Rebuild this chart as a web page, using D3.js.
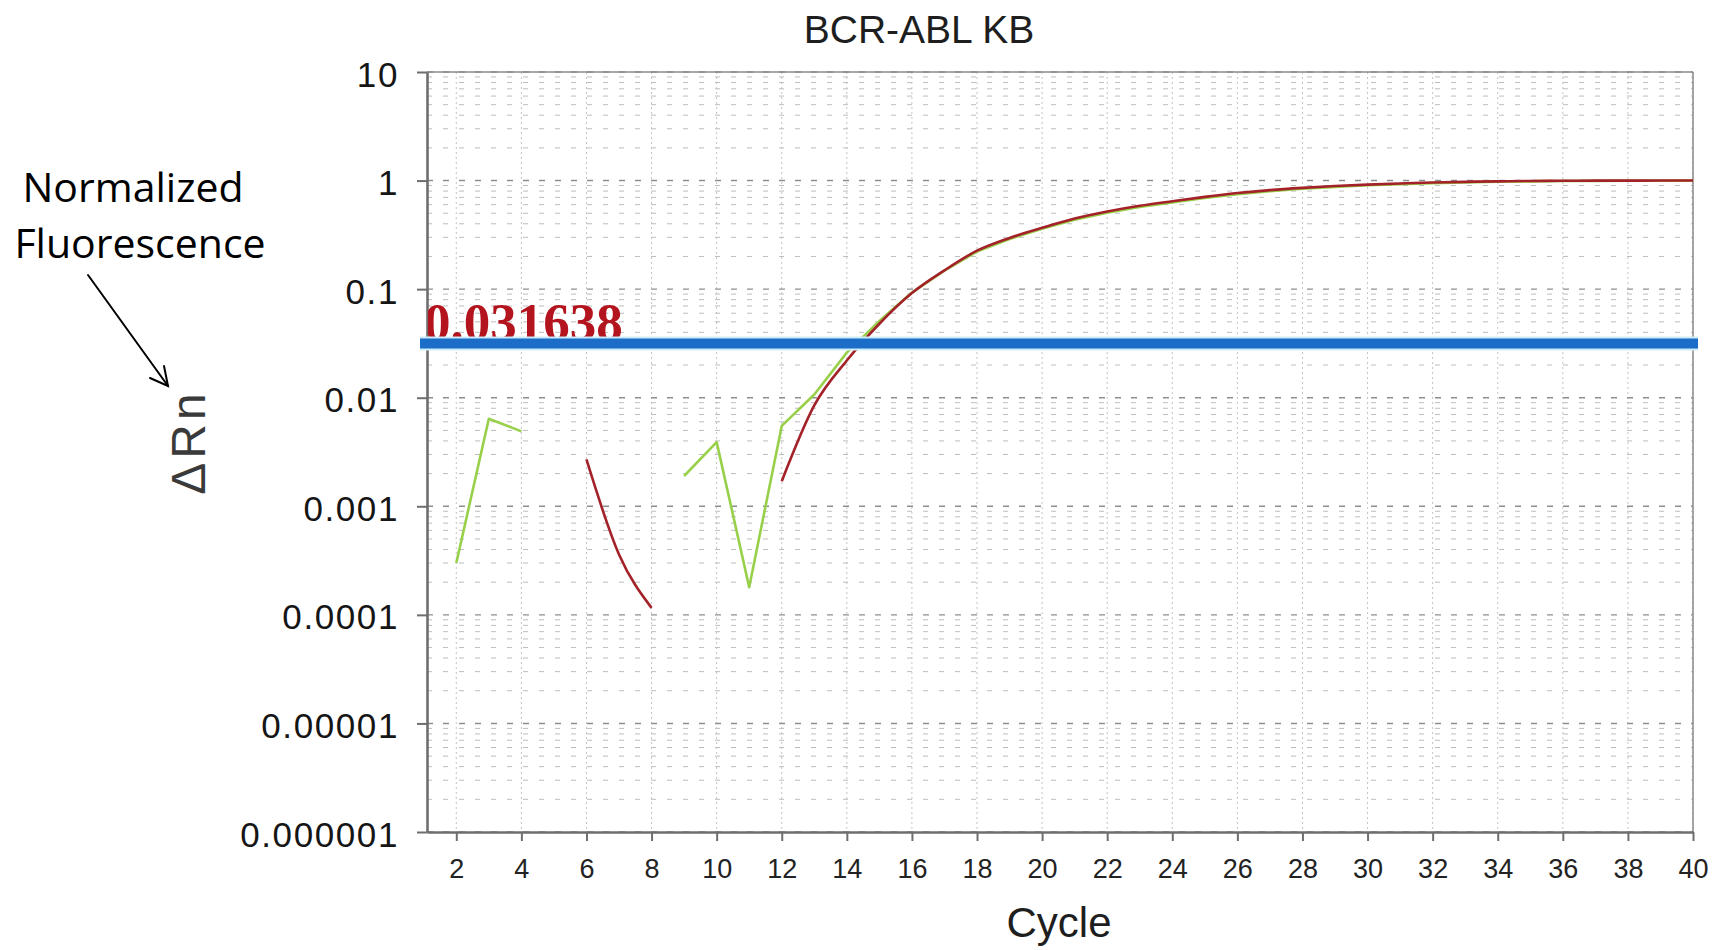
<!DOCTYPE html>
<html>
<head>
<meta charset="utf-8">
<title>BCR-ABL KB</title>
<script src="https://cdn.jsdelivr.net/npm/d3@7/dist/d3.min.js"></script>
<style>
  html, body { margin: 0; padding: 0; background: #fff; }
  svg { display: block; }
</style>
</head>
<body>
<svg id="chart" width="1720" height="950"></svg>
<script>
// Amplification plot data: normalized fluorescence (ΔRn) per PCR cycle.
// null = non-positive / undefined reading, not drawn on the log axis.
const cycles = d3.range(1, 41);

const wellGreen = [
  null, 0.0003, 0.0064, 0.0049, null, null, null, null, 0.0019, 0.0039,
  0.00018, 0.0055, 0.0107, 0.026, 0.051, 0.093, 0.148, 0.222, 0.29, 0.36,
  0.435, 0.505, 0.57, 0.63, 0.69, 0.75, 0.80, 0.84, 0.875, 0.905,
  0.928, 0.948, 0.963, 0.975, 0.984, 0.99, 0.993, 0.995, 0.997, 0.998
];

const wellRed = [
  null, null, null, null, null, 0.0027, 0.00036, 0.000116, null, null,
  null, 0.0017, 0.0085, 0.022, 0.048, 0.092, 0.149, 0.226, 0.296, 0.367,
  0.447, 0.519, 0.586, 0.646, 0.708, 0.767, 0.817, 0.857, 0.891, 0.918,
  0.94, 0.959, 0.973, 0.984, 0.991, 0.995, 0.998, 0.999, 1.0, 1.0
];

const threshold = 0.031638;
const thresholdLabel = "0.031638";

const yTickValues = [10, 1, 0.1, 0.01, 0.001, 0.0001, 0.00001, 0.000001];
const yTickLabels = ["10", "1", "0.1", "0.01", "0.001", "0.0001", "0.00001", "0.000001"];

const xTickValues = [2, 4, 6, 8, 10, 12, 14, 16, 18, 20, 22, 24, 26, 28, 30, 32, 34, 36, 38, 40];
const xTickLabels = ["2", "4", "6", "8", "10", "12", "14", "16", "18", "20",
                     "22", "24", "26", "28", "30", "32", "34", "36", "38", "40"];

const svg = d3.select("#chart");
const sans = "'Liberation Sans', Arial, Helvetica, sans-serif";

const plot = { left: 427, right: 1693, top: 72, bottom: 832 };

const x = d3.scaleLinear().domain([1.1, 40]).range([plot.left, plot.right]);
const y = d3.scaleLog().domain([1e-6, 10]).range([plot.bottom, plot.top]);

// ---- grid ----
const grid = svg.append("g");
const minorY = y.ticks().filter(v => !yTickValues.includes(v));

grid.selectAll("line.vgrid")
  .data(xTickValues)
  .join("line")
  .attr("class", "vgrid")
  .attr("x1", d => x(d)).attr("x2", d => x(d))
  .attr("y1", plot.top).attr("y2", plot.bottom)
  .attr("stroke", "#c4c4c4")
  .attr("stroke-width", 1)
  .attr("stroke-dasharray", "2 3");

grid.selectAll("line.minor")
  .data(minorY)
  .join("line")
  .attr("class", "minor")
  .attr("x1", plot.left).attr("x2", plot.right)
  .attr("y1", d => y(d)).attr("y2", d => y(d))
  .attr("stroke", "#bdbdbd")
  .attr("stroke-width", 1)
  .attr("stroke-dasharray", "5 11");

grid.selectAll("line.major")
  .data(yTickValues)
  .join("line")
  .attr("class", "major")
  .attr("x1", plot.left).attr("x2", plot.right)
  .attr("y1", d => y(d)).attr("y2", d => y(d))
  .attr("stroke", "#8e8e8e")
  .attr("stroke-width", 1.4)
  .attr("stroke-dasharray", "6 10");

// top and right frame
svg.append("line")
  .attr("x1", plot.left).attr("x2", plot.right)
  .attr("y1", plot.top).attr("y2", plot.top)
  .attr("stroke", "#8a8a8a").attr("stroke-width", 1.5);
svg.append("line")
  .attr("x1", plot.right).attr("x2", plot.right)
  .attr("y1", plot.top).attr("y2", plot.bottom)
  .attr("stroke", "#8a8a8a").attr("stroke-width", 1.5);

// ---- axes ----
const yAxis = d3.axisLeft(y)
  .tickValues(yTickValues)
  .tickFormat((d, i) => yTickLabels[i])
  .tickSize(10)
  .tickSizeOuter(0)
  .tickPadding(18);

const gy = svg.append("g")
  .attr("transform", `translate(${plot.left},0)`)
  .call(yAxis);
gy.select(".domain").attr("stroke", "#6e6e6e").attr("stroke-width", 2.6);
gy.selectAll(".tick line").attr("stroke", "#6e6e6e").attr("stroke-width", 2);
gy.selectAll(".tick text")
  .attr("font-family", sans)
  .attr("font-size", 35)
  .attr("letter-spacing", "1.6px")
  .attr("fill", "#151515")
  .attr("dy", "0.40em");

const xAxis = d3.axisBottom(x)
  .tickValues(xTickValues)
  .tickFormat((d, i) => xTickLabels[i])
  .tickSize(9)
  .tickSizeOuter(0)
  .tickPadding(18);

const gx = svg.append("g")
  .attr("transform", `translate(0,${plot.bottom})`)
  .call(xAxis);
gx.select(".domain").attr("stroke", "#6e6e6e").attr("stroke-width", 2.6);
gx.selectAll(".tick line").attr("stroke", "#6e6e6e").attr("stroke-width", 2);
gx.selectAll(".tick text")
  .attr("font-family", sans)
  .attr("font-size", 27)
  .attr("fill", "#222");

// ---- amplification curves ----
const toPoints = arr => cycles.map((c, i) => ({ c, v: arr[i] }));

const lineGreen = d3.line()
  .defined(d => d.v != null)
  .x(d => x(d.c))
  .y(d => y(d.v));

const lineRed = d3.line()
  .defined(d => d.v != null)
  .curve(d3.curveMonotoneX)
  .x(d => x(d.c))
  .y(d => y(d.v));

svg.append("path")
  .datum(toPoints(wellGreen))
  .attr("d", lineGreen)
  .attr("fill", "none")
  .attr("stroke", "#98d04a")
  .attr("stroke-width", 2.6)
  .attr("stroke-linejoin", "round");

svg.append("path")
  .datum(toPoints(wellRed))
  .attr("d", lineRed)
  .attr("fill", "none")
  .attr("stroke", "#a3222a")
  .attr("stroke-width", 2.6)
  .attr("stroke-linejoin", "round");

// ---- threshold ----
svg.append("clipPath").attr("id", "plotClip")
  .append("rect")
  .attr("x", plot.left + 1).attr("y", 0)
  .attr("width", plot.right - plot.left).attr("height", 950);

svg.append("text")
  .attr("clip-path", "url(#plotClip)")
  .attr("x", plot.left - 3)
  .attr("y", y(threshold) - 3)
  .attr("font-family", "'Liberation Serif', 'Times New Roman', serif")
  .attr("font-weight", "bold")
  .attr("font-size", 53)
  .attr("fill", "#b3141e")
  .text(thresholdLabel);

svg.append("line")
  .attr("x1", plot.left - 7).attr("x2", plot.right + 5)
  .attr("y1", y(threshold)).attr("y2", y(threshold))
  .attr("stroke", "#cdeef9").attr("stroke-width", 14);
svg.append("line")
  .attr("x1", plot.left - 7).attr("x2", plot.right + 5)
  .attr("y1", y(threshold)).attr("y2", y(threshold))
  .attr("stroke", "#1b6dc8").attr("stroke-width", 10);

// ---- titles ----
svg.append("text")
  .attr("x", 919).attr("y", 43)
  .attr("text-anchor", "middle")
  .attr("font-family", sans)
  .attr("font-size", 39)
  .attr("fill", "#1e1e1e")
  .text("BCR-ABL KB");

svg.append("text")
  .attr("x", 1059).attr("y", 937)
  .attr("text-anchor", "middle")
  .attr("font-family", sans)
  .attr("font-size", 42)
  .attr("fill", "#1e1e1e")
  .text("Cycle");

svg.append("text")
  .attr("transform", "translate(205,442) rotate(-90)")
  .attr("text-anchor", "middle")
  .attr("font-family", sans)
  .attr("font-size", 48)
  .attr("letter-spacing", "4px")
  .attr("fill", "#3a3a3a")
  .text("ΔRn");

// ---- annotation ----
const note = svg.append("text")
  .attr("text-anchor", "middle")
  .attr("font-family", "'Open Sans', 'Noto Sans', sans-serif")
  .attr("font-size", 41)
  .attr("fill", "#000");
note.append("tspan").attr("x", 133).attr("y", 202).text("Normalized");
note.append("tspan").attr("x", 140).attr("y", 258).text("Fluorescence");

const arrow = svg.append("g")
  .attr("stroke", "#000")
  .attr("stroke-width", 2)
  .attr("fill", "none")
  .attr("stroke-linecap", "round");
arrow.append("line").attr("x1", 88).attr("y1", 275).attr("x2", 168).attr("y2", 386);
arrow.append("polyline").attr("points", "150,378 168,386 164,366");
</script>
</body>
</html>
